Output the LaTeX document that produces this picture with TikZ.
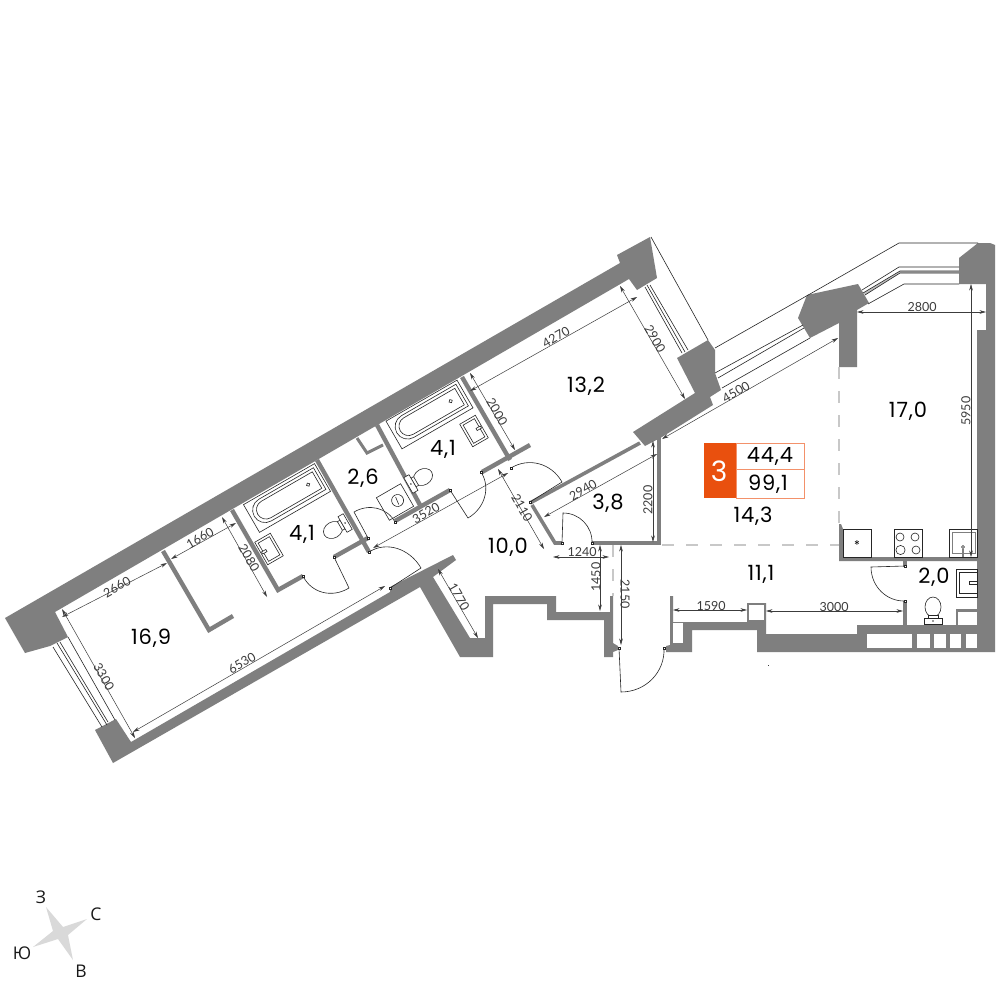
\documentclass[tikz,border=0pt]{standalone}
\usepackage{fontspec}
\setmainfont[LetterSpace=4]{Poppins}
\newfontfamily\compassfont{Open Sans}
\newfontfamily\dimfont{Lato}
\usetikzlibrary{arrows.meta, calc}
\definecolor{wallgray}{HTML}{7F7F7F}
\definecolor{inkgray}{HTML}{3C3C3C}
\definecolor{dashgray}{HTML}{C8C8C8}
\definecolor{badgeorange}{HTML}{E9500E}
\definecolor{badgeline}{HTML}{F3916A}
\tikzset{
    %Define standard arrow tip
    >={Stealth[length=6.5pt,width=3.6pt]},
    wall/.style={fill=wallgray, draw=none},
    partition/.style={draw=wallgray, line width=4.4pt, line join=miter},
    openline/.style={draw=dashgray, line width=1.3pt, dash pattern=on 12pt off 12pt},
    fixture/.style={draw=black!85, line width=.6pt},
    glazing/.style={draw=black!85, line width=.6pt},
    dimline/.style={<->, draw=inkgray, line width=.5pt},
    dimtext/.style={font=\dimfont\fontsize{12.5}{13}\selectfont, text=inkgray, inner sep=0pt},
    arealabel/.style={font=\fontsize{21}{22}\selectfont, text=black, inner sep=0pt},
    badgetext/.style={font=\fontsize{21}{22}\selectfont, text=black, inner sep=0pt},
    pivot/.style={draw=black!85, fill=white, line width=.4pt, minimum size=2.2pt, inner sep=0pt},
    compasstext/.style={font=\compassfont\fontsize{17.5}{18}\selectfont, text=black!90, inner sep=0pt},
}
% door: pivot, end of leaf, end of swing
\newcommand{\doorswing}[3]{%
  \draw[fixture] #1 -- #2 .. controls ($#2+0.55*#3-0.55*#1$) and ($#3+0.55*#2-0.55*#1$) .. #3;
  \node[pivot] at #1 {};
  \node[pivot] at #3 {};
}
\newcommand{\bathtub}[2]{%
  \begin{scope}[shift={#1},rotate=30]
    \draw[fixture] (-41,-16) rectangle (41,16);
    \draw[fixture] (38,-13) -- (-25,-13) arc[start angle=90,end angle=270,radius=12.5pt] -- (38,12) -- cycle;
    \draw[fixture] (35,-10) -- (-24,-10) arc[start angle=90,end angle=270,radius=9.5pt] -- (35,9) -- cycle;
    \draw[fixture] (25,-1) circle (1.8pt);
  \end{scope}
}
\newcommand{\basin}[3]{%
  \begin{scope}[shift={#1},rotate=#2]
    \draw[fixture] (-9,-13) rectangle (9,13);
    \draw[fixture] (-6.5,-10.5) rectangle (6.5,10.5);
    \draw[fixture,fill=white] (#3*8,-1.2) rectangle (#3*3,1.2);
  \end{scope}
}
\newcommand{\toiletbowl}[2]{%
  \begin{scope}[shift={#1},rotate=#2]
    \draw[fixture] (0,0) ellipse (10pt and 8pt);
    \draw[fixture,fill=white] (8,-5) rectangle (11,5);
    \draw[fixture,fill=white] (11,-9) rectangle (17,9);
    \fill[inkgray] (14,0) circle (.9pt);
  \end{scope}
}

\begin{document}
\begin{tikzpicture}[x=1pt, y=-1pt]
  \useasboundingbox (0,0) rectangle (1000,1000);
  \fill[white] (0,0) rectangle (1000,1000);

  % shell
  \fill[wall] (5,618) -- (620,263) -- (617,255) -- (650,237) -- (657,278) -- (637,290) -- (629,279)
    -- (55,612) -- (68,637) -- (50,646) -- (25,653) -- cycle;
  \fill[wall] (95,730) -- (116,719) -- (131,742) -- (390,592) -- (390,587) -- (453,555) -- (456,560) -- (433,577)
    -- (470,638) -- (485,638) -- (485,596) -- (556,596) -- (556,612) -- (610,612) -- (610,596) -- (613,596)
    -- (613,643) -- (618,646) -- (618,650) -- (613,652) -- (613,657) -- (604,657) -- (604,620) -- (547,620)
    -- (547,604) -- (493,604) -- (493,657) -- (460,657) -- (420,587) -- (113,763) -- cycle;
  \fill[wall] (633,432) -- (695,393) -- (677,358) -- (708,340) -- (715,350) -- (715,373) -- (721,390) -- (710,397)
    -- (713,405) -- (662,437) -- (645,446) -- cycle;
  \fill[wall] (798,318) -- (807,295) -- (858,284) -- (869,303) -- (857,310) -- (857,367) -- (839,367) -- (839,323)
    -- (810,338) -- cycle;
  \fill[wall] (670,596) -- (673,596) -- (673,622) -- (747,622) -- (747,603) -- (766,603) -- (766,634) -- (857,634)
    -- (857,625) -- (977,625) -- (977,330) -- (986,330) -- (986,284) -- (959,284) -- (959,258) -- (978,243)
    -- (990,243) -- (995,245) -- (995,652) -- (757,652) -- (757,630) -- (692,630) -- (692,652) -- (666,652)
    -- (666,646) -- (670,645) -- cycle;
  \fill[wall] (839,524) -- (841,524) -- (843,529) -- (843,557) -- (977,557) -- (977,561) -- (839,561) -- cycle;
  \fill[white] (673,623) rectangle (683,643);
  \fill[white] (749,605) rectangle (764,620);
  \fill[white] (867,634) rectangle (912,648);
  \fill[white] (917,634) rectangle (930,648);
  \fill[white] (934,634) rectangle (946,648);
  \fill[white] (950,634) rectangle (961,648);
  \fill[white] (966,634) rectangle (977,648);
  \fill[wall] (956,609) rectangle (977,625);
  \fill[white] (958,611.5) rectangle (977,625);
  \fill[inkgray] (767.5,664.5) rectangle (768.5,665.5);

  % partitions
  \draw[partition] (163,551) -- (209,630) -- (233,616);
  \draw[partition] (232,510) -- (278,590) -- (303,576);
  \draw[partition] (334,557) -- (368,538);
  \draw[partition] (317,460) -- (369,552);
  \draw[partition] (395,521) -- (450,490);
  \draw[partition] (377,425) -- (420,505);
  \draw[partition, line width=3pt] (357,438) -- (367,453) -- (383,445);
  \draw[partition] (462,377) -- (510,460);
  \draw[partition] (482,472) -- (530,445);
  \draw[partition, line width=3.6pt] (530,503) -- (640,443);
  \draw[partition, line width=3.6pt] (532,505) -- (555,543) -- (562,543);
  \draw[partition, line width=3.2pt] (592,543) -- (660,543);
  \draw[partition, line width=3.8pt] (659,544.6) -- (659,437);
  \draw[partition, line width=3.4pt] (905,560) -- (905,567);
  \draw[partition, line width=3.6pt] (905,601) -- (905,625);

  % open sides of the kitchen and the entry
  \draw[openline] (839,367) -- (839,524);
  \draw[openline] (662,545) -- (839,545);
  \draw[openline] (613,545) -- (613,596);

  % glazing
  \draw[glazing] (53,647) -- (102,727);
  \draw[glazing] (57,643) -- (107,725);
  \draw[glazing] (60,642) -- (108,722);
  \draw[glazing] (68,637) -- (115,720);
  \draw[glazing] (645,287) -- (682,353);
  \draw[glazing] (647,285) -- (685,352);
  \draw[glazing] (650,285) -- (688,350);
  \draw[glazing] (651,237) -- (708,340);
  \draw[glazing] (715,348) -- (817,290);
  \draw[glazing] (817,290) -- (899,243) -- (978,243);
  \draw[glazing] (715,373) -- (803,325);
  \draw[glazing] (718,378) -- (804,328);
  \draw[glazing] (722,388) -- (810,338);
  \draw[glazing] (862,290) -- (899,267) -- (959,267);
  \fill[black!25] (863,293) -- (900,271) -- (959,271) -- (959,273) -- (900,273) -- (865,295) -- cycle;
  \draw[glazing] (863,293) -- (900,271) -- (959,271);
  \draw[glazing] (865,295) -- (900,273) -- (959,273);
  \draw[glazing] (868,304) -- (904,284) -- (959,284);

  % doors
  \doorswing{(334,557)}{(349,588)}{(303,576)}
  \doorswing{(368,538)}{(354,512)}{(395,522)}
  \doorswing{(390,588)}{(421,568)}{(369,552)}
  \doorswing{(450,490)}{(468,518)}{(481,472)}
  \doorswing{(530,502)}{(562,482)}{(511,468)}
  \doorswing{(562,543)}{(563,513)}{(592,543)}
  \doorswing{(619,648)}{(621,692)}{(664,648)}
  \doorswing{(905,566)}{(871,567)}{(905,601)}

  % fixtures
  \bathtub{(287,498)}{}
  \bathtub{(429.5,414.5)}{}
  \basin{(269,549)}{30}{-1}
  \basin{(474,431)}{30}{1}
  \toiletbowl{(333,530)}{30}
  \toiletbowl{(423,477)}{210}
  \toiletbowl{(933,607)}{-90}
  \begin{scope}[shift={(395,502)},rotate=30]
    \draw[fixture] (-14,-13) rectangle (14,13);
    \draw[fixture] (3,0) circle (6pt);
    \draw[fixture] (3,-4) -- (2,4);
  \end{scope}
  \draw[fixture] (843,529) rectangle (871,557);
  \node[inner sep=0pt, font=\fontsize{12}{12}\selectfont] (fridgemark) at (857,545.5) {*};
  \draw[fixture] (894,529) rectangle (922,557);
  \draw[fixture] (900,537) circle (4pt);
  \draw[fixture] (915,537) circle (4pt);
  \draw[fixture] (900.5,550) circle (4.6pt);
  \draw[fixture] (916,550) circle (4pt);
  \draw[fixture] (949,529) rectangle (977,557);
  \draw[fixture, draw=wallgray, line width=1pt] (952,532) rectangle (975,553);
  \draw[fixture] (963,547) circle (1.5pt);
  \fill[wallgray] (962,549) rectangle (964,557);
  \draw[fixture] (956,569) rectangle (977,597);
  \draw[fixture] (959,572) rectangle (977,593);
  \draw[fixture] (969,581) rectangle (977,584);

  % dimensions
  \draw[dimline] (62,617) -- (167,563);
  \node[dimtext, rotate=30] (dim2660) at (117,587) {2660};
  \draw[dimline] (171,559) -- (236,523);
  \node[dimtext, rotate=30] (dim1660) at (200,538) {1660};
  \draw[dimline] (222,517) -- (267,597);
  \node[dimtext, rotate=-60] (dim2080) at (249,558) {2080};
  \draw[dimline] (62,609) -- (135,738);
  \node[dimtext, rotate=-60] (dim3300) at (104,677) {3300};
  \draw[dimline] (133,732) -- (385,586);
  \node[dimtext, rotate=30] (dim6530) at (242,663) {6530};
  \draw[dimline] (438,569) -- (478,638);
  \node[dimtext, rotate=-60] (dim1770) at (459,597) {1770};
  \draw[dimline] (373,548) -- (508,473);
  \node[dimtext, rotate=30] (dim3520) at (426,513) {3520};
  \draw[dimline] (498,469) -- (544,549);
  \node[dimtext, rotate=-60] (dim2110) at (522,508) {2110};
  \draw[dimline] (470,373) -- (515,450);
  \node[dimtext, rotate=-60] (dim2000) at (497,412) {2000};
  \draw[dimline] (470,391) -- (637,297);
  \node[dimtext, rotate=30] (dim4270) at (556,337) {4270};
  \draw[dimline] (620,286) -- (685,399);
  \node[dimtext, rotate=-60] (dim2900) at (655,339) {2900};
  \draw[dimline] (662,439) -- (838,338);
  \node[dimtext, rotate=30] (dim4500) at (736,392) {4500};
  \draw[dimline] (544,517) -- (657,454);
  \node[dimtext, rotate=30] (dim2940) at (583,490) {2940};
  \draw[dimline] (653,441) -- (653,542);
  \node[dimtext, rotate=90] (dim2200) at (648,500) {2200};
  \draw[dimline] (553,557) -- (609,557);
  \node[dimtext] (dim1240) at (582,552) {1240};
  \draw[dimline] (600,545) -- (600,611);
  \node[dimtext, rotate=90] (dim1450) at (596,577) {1450};
  \draw[dimline] (621,545) -- (621,645);
  \node[dimtext, rotate=-90] (dim2150) at (625,594) {2150};
  \draw[dimline] (673,610) -- (747,610);
  \node[dimtext] (dim1590) at (711,606) {1590};
  \draw[dimline] (766,611) -- (903,611);
  \node[dimtext] (dim3000) at (834,607) {3000};
  \draw[dimline] (971,284) -- (971,557);
  \node[dimtext, rotate=90] (dim5950) at (966,411) {5950};
  \draw[dimline] (857,312) -- (986,312);
  \node[dimtext] (dim2800) at (922,307) {2800};

  % room areas
  \node[arealabel] (room169) at (151,638) {16,9};
  \node[arealabel] (bathleft) at (302,534) {4,1};
  \node[arealabel] (room26) at (363,478) {2,6};
  \node[arealabel] (bathright) at (443,449) {4,1};
  \node[arealabel] (room132) at (586,386) {13,2};
  \node[arealabel] (hall100) at (508,547) {10,0};
  \node[arealabel] (room38) at (608,503) {3,8};
  \node[arealabel] (room143) at (753,516) {14,3};
  \node[arealabel] (room170) at (908,411) {17,0};
  \node[arealabel] (room111) at (761,574) {11,1};
  \node[arealabel] (room20) at (934,577) {2,0};

  % badge
  \fill[badgeorange] (704,443) rectangle (736,498);
  \draw[badgeline, line width=.9pt] (736,443) rectangle (804,498);
  \draw[badgeline, line width=.9pt] (736,469.5) -- (804,469.5);
  \node[inner sep=0pt, text=white, font=\fontsize{28}{28}\selectfont] (roomcount) at (719,471) {3};
  \node[badgetext] (livingarea) at (770,456) {44,4};
  \node[badgetext] (totalarea) at (768,484) {99,1};

  % compass
  \fill[black!15] (46,907) -- (53,931) -- (33,947) -- (58,939) -- (73,960) -- (68,935) -- (87,919) -- (63,927) -- cycle;
  \node[compasstext] (north) at (41,897) {З};
  \node[compasstext] (east) at (96,914) {С};
  \node[compasstext] (south) at (81,971) {В};
  \node[compasstext] (west) at (22,953) {Ю};
\end{tikzpicture}
\end{document}
